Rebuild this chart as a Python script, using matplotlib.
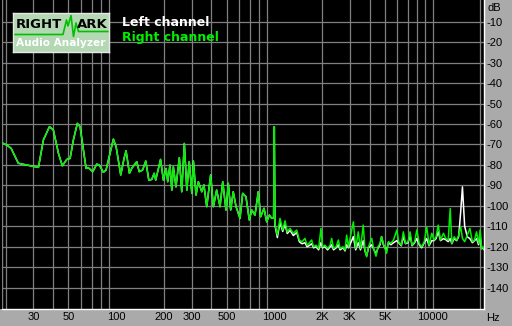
import matplotlib
matplotlib.use('Agg')
import matplotlib.pyplot as plt
from matplotlib.patches import Rectangle

# spectrum below ~1 kHz, both channels lie on top of each other here
freq_low = [19, 20.4, 21.7, 24.1, 28.6, 32.3, 34.7, 37.9, 40.1, 43.2,
            45.7, 48.8, 51.2, 53.7, 56.9, 59.2, 64.6, 66.8, 71.2, 75.5,
            78.4, 83.1, 86.4, 91.6, 96.1, 100, 107, 112.3, 115.6, 121.4,
            125.5, 135, 140, 147, 154, 161, 168, 174, 178, 191,
            199, 207, 212, 219, 225, 230, 239, 251, 260, 270,
            280, 290, 301, 308, 320, 331, 348, 359, 374, 396,
            412, 432, 454, 472, 495, 512, 530, 550, 573, 607,
            631, 662, 695, 720, 755, 792, 820, 861, 895, 930,
            963, 990, 1000]
db_low = [-69.2, -70.3, -71.9, -79.2, -80.4, -81.2, -67.8, -61.3, -62.9, -74.3,
          -80.4, -77.3, -76.8, -67.8, -59.7, -61.3, -81.7, -81.4, -83.3, -79.6,
          -80.1, -83.6, -82.5, -74.3, -67.4, -71.1, -84.9, -76.8, -73.1, -84.1,
          -81.7, -78.4, -83.3, -82.5, -78.1, -87.4, -87.1, -84.1, -87.4, -77.3,
          -87.4, -81.7, -88.2, -80.1, -92.3, -80.9, -90.7, -76.5, -93.1, -69.5,
          -92.3, -78.4, -93.9, -78.1, -94.7, -88.2, -93.1, -89.8, -100.4, -84.9,
          -100.4, -92.3, -100.4, -88.2, -102, -89, -102, -93.1, -100.4, -106.1,
          -93.9, -95.5, -106.9, -102, -104.5, -93.1, -105.3, -101.2, -107.8, -104.5,
          -106.1, -106, -61.3]

# above 1 kHz the channels split a little
freq_high = [1010, 1045, 1087, 1130, 1169, 1208, 1257, 1319, 1386, 1439,
             1496, 1563, 1610, 1655, 1723, 1770, 1836, 1906, 1972, 2016,
             2092, 2171, 2253, 2306, 2368, 2458, 2540, 2604, 2720, 2800,
             2866, 2942, 3085, 3160, 3270, 3394, 3505, 3651, 3740, 3835,
             3937, 4129, 4240, 4394, 4525, 4660, 4765, 4890, 5125, 5260,
             5460, 5670, 5950, 6110, 6350, 6541, 6750, 7010, 7216, 7430,
             7710, 7958, 8240, 8540, 8870, 9193, 9510, 9896, 10230, 10530,
             10870, 11230, 11730, 12110, 12570, 12940, 13250, 13700, 14220, 14640,
             15070, 15460, 15970, 16600, 17230, 17870, 18420, 18990, 19550, 20000,
             20440, 20950, 21420]
right_high = [-108.6, -114.3, -106.1, -111.8, -107.3, -112.7, -111, -113.4, -111.8, -116.7,
              -117.5, -115.9, -119.2, -118.3, -116.7, -120, -119.2, -120.8, -111, -120,
              -119.2, -120.8, -119.2, -115.9, -120.8, -120, -116.7, -120.8, -120, -121.6,
              -114.3, -120, -111.8, -107.8, -120.8, -112.7, -120.8, -109.4, -121.6, -124.9,
              -120, -115.9, -120.8, -124.6, -120, -118.3, -115.1, -118.3, -123.2, -117.5,
              -118.3, -116.7, -111.8, -117.5, -119.2, -112.7, -118.3, -117.5, -112.7, -119.2,
              -117.5, -111.8, -118.3, -120, -117.5, -110.2, -119.2, -113.4, -116.7, -115.1,
              -109.4, -116.7, -113.4, -115.9, -116.7, -101.3, -118.3, -115.1, -116.7, -114.3,
              -110.2, -115.9, -117.5, -114.3, -111, -117.5, -116.7, -112.7, -118.3, -111.8,
              -120.8, -120, -121.6]
left_high = [-109.5, -115.5, -108, -112.5, -109, -113.5, -112, -114.5, -113, -117.5,
             -118.5, -118, -120, -119.5, -118.5, -120.5, -120, -121.5, -118, -120.5,
             -120, -121.5, -120, -119, -121.5, -120.5, -119, -121.5, -120.5, -122,
             -119, -120.5, -117, -115, -121.5, -118, -121.5, -117, -122, -124.5,
             -120.5, -119, -121, -123.5, -120.5, -119, -115, -119, -122, -118,
             -119, -118, -117, -118, -119.5, -115, -118.5, -118, -114.3, -119.5,
             -118, -116, -119, -120.5, -118, -116, -119.5, -117, -117, -116,
             -112.7, -117, -116, -116.5, -117.5, -116, -118.5, -116, -117, -115,
             -102.9, -90.7, -110, -115.1, -116, -118, -117, -116, -119, -114.3,
             -121, -120.5, -122]

x_ticks = [30, 50, 100, 200, 300, 500, 1000, 2000, 3000, 5000, 10000]
x_tick_labels = ['30', '50', '100', '200', '300', '500', '1000', '2K', '3K', '5K', '10000']
y_ticks = [-10, -20, -30, -40, -50, -60, -70, -80, -90, -100, -110, -120, -130, -140]
y_tick_labels = ['-10', '-20', '-30', '-40', '-50', '-60', '-70', '-80', '-90', '-100',
                 '-110', '-120', '-130', '-140']

W, H = 512, 326
BG = '#aaaaaa'
GRID = '#808080'
GREEN = '#00f000'


def fx(px):
    return px / W


def fy(py):
    return 1 - py / H


fig = plt.figure(figsize=(W / 100, H / 100), dpi=100, facecolor=BG)
# black strip left of the plot frame
fig.patches.append(Rectangle((0, fy(309)), fx(2), 309 / H, transform=fig.transFigure,
                             facecolor='black', edgecolor='none'))

ax = fig.add_axes([fx(2), fy(309), fx(484 - 2), 309 / H])
ax.set_facecolor('black')
ax.set_xscale('log')
ax.set_xlim(19.0, 21160)
ax.set_ylim(-150.4, 0.6)

grid_freqs = [m * d for d in (10, 100, 1000) for m in range(2, 10)] + [10000, 20000]
for g in grid_freqs:
    ax.axvline(g, color=GRID, lw=0.9, zorder=1)
for g in y_ticks:
    ax.axhline(g, color=GRID, lw=0.9, zorder=1)

ax.plot(freq_low + freq_high, db_low + left_high, color='white', lw=1.1, zorder=2)
ax.plot(freq_low + freq_high, db_low + right_high, color=GREEN, lw=1.1, zorder=3)

ax.spines['left'].set_color(GRID)
ax.spines['top'].set_visible(False)
ax.spines['right'].set_color('white')
ax.spines['bottom'].set_color('white')
for s in ax.spines.values():
    s.set_linewidth(1.0)

ax.set_xticks(x_ticks)
ax.set_xticklabels(x_tick_labels)
ax.xaxis.set_minor_locator(matplotlib.ticker.NullLocator())
ax.yaxis.tick_right()
ax.set_yticks(y_ticks)
ax.set_yticklabels(y_tick_labels)
ax.tick_params(length=0, labelsize=8, labelcolor='black', pad=2)
for lab in ax.get_xticklabels() + ax.get_yticklabels():
    lab.set_family('Liberation Sans')

fig.text(fx(487), fy(8), 'dB', fontsize=8, family='Liberation Sans', va='center', ha='left')
fig.text(fx(486), fy(318), 'Hz', fontsize=8, family='Liberation Sans', va='center', ha='left')

fig.text(fx(122), fy(23), 'Left channel', color='white', fontsize=9, weight='bold', va='center')
fig.text(fx(122), fy(38), 'Right channel', color=GREEN, fontsize=9, weight='bold', va='center')

# RightMark logo
lg = fig.add_axes([fx(13), fy(52), fx(96), 39 / H])
lg.set_facecolor('#b3d8b3')
lg.set_xlim(0, 96)
lg.set_ylim(39, 0)
lg.set_xticks([])
lg.set_yticks([])
for s in lg.spines.values():
    s.set_color('#e8e8e8')
    s.set_linewidth(1.0)
lg.plot([1, 50, 53.5, 55, 58, 60.5, 63, 65.5, 95], [21.5, 21.5, 7, 13, 2.5, 23.5, 10, 18.5, 18.5],
        color='#00c000', lw=1.2)
lg.text(3, 12, 'RIGHT', fontsize=9.5, weight='bold', color='black', va='center')
lg.text(64, 12, 'ARK', fontsize=9.5, weight='bold', color='black', va='center')
lg.text(48, 30.5, 'Audio Analyzer', fontsize=7.6, weight='bold', color='white', va='center', ha='center')

fig.savefig('out.png', dpi=100, facecolor=BG)
